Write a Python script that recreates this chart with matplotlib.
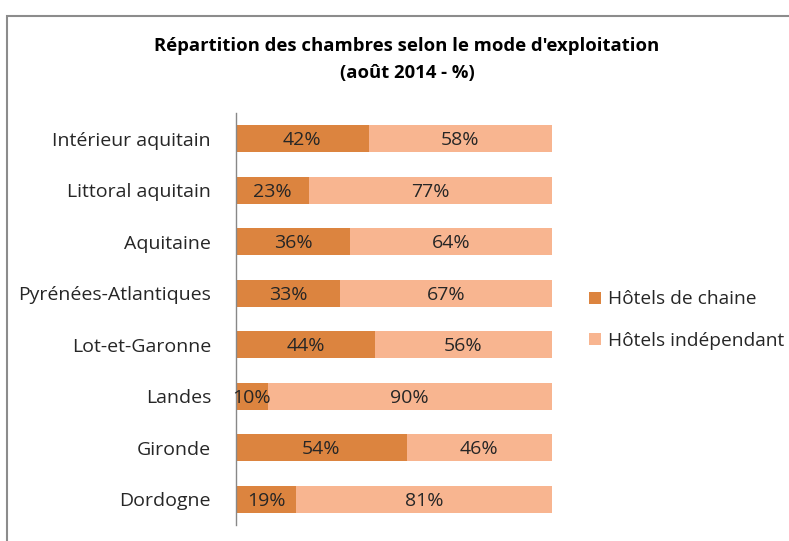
import matplotlib.pyplot as plt
from matplotlib.patches import Rectangle

regions = ['Intérieur aquitain', 'Littoral aquitain', 'Aquitaine', 'Pyrénées-Atlantiques',
           'Lot-et-Garonne', 'Landes', 'Gironde', 'Dordogne']
chaine = [42, 23, 36, 33, 44, 10, 54, 19]
independant = [58, 77, 64, 67, 56, 90, 46, 81]

c_dark = '#DC843F'
c_light = '#F8B590'
txt = '#262626'

plt.rcParams['font.family'] = ['Open Sans', 'DejaVu Sans']

fig = plt.figure(figsize=(7.89, 5.41), dpi=100)
ax = fig.add_axes([236 / 789, 1 - 525 / 541, 316 / 789, 412 / 541])

y = list(range(len(regions)))
b1 = ax.barh(y, chaine, height=0.53, color=c_dark, label='Hôtels de chaine')
b2 = ax.barh(y, independant, left=chaine, height=0.53, color=c_light,
             label='Hôtels indépendant')

for i in y:
    ax.text(chaine[i] / 2, i + 0.03, '%d%%' % chaine[i], ha='center', va='center',
            fontsize=14, color=txt)
    ax.text(chaine[i] + independant[i] / 2, i + 0.03, '%d%%' % independant[i],
            ha='center', va='center', fontsize=14, color=txt)

ax.set_xlim(0, 100)
ax.set_ylim(len(regions) - 0.5, -0.5)
ax.set_yticks(y)
ax.set_yticklabels(regions, fontsize=14, color=txt)
ax.tick_params(axis='y', length=0, pad=18)
ax.set_xticks([])
for s in ['top', 'right', 'bottom']:
    ax.spines[s].set_visible(False)
ax.spines['left'].set_color('#888888')
ax.spines['left'].set_linewidth(1)

fig.text(0.516, 1 - 46 / 541, "Répartition des chambres selon le mode d'exploitation",
         ha='center', va='center', fontsize=13.3, fontweight='bold', color='black')
fig.text(0.516, 1 - 73 / 541, "(août 2014 - %)",
         ha='center', va='center', fontsize=13.3, fontweight='bold', color='black')

fig.legend(handles=[b1, b2], loc='center left', bbox_to_anchor=(572 / 789, 1 - 320 / 541),
           frameon=False, fontsize=13.8, handlelength=0.6, handleheight=0.6,
           handletextpad=0.4, labelspacing=1.2, labelcolor=txt)

# cadre du graphique
fig.patches.append(Rectangle((7 / 789, -0.1), 1.2, 1 - 16 / 541 + 0.1,
                             transform=fig.transFigure, fill=False,
                             edgecolor='#8c8c8c', linewidth=1.5))

plt.savefig('out.png')
